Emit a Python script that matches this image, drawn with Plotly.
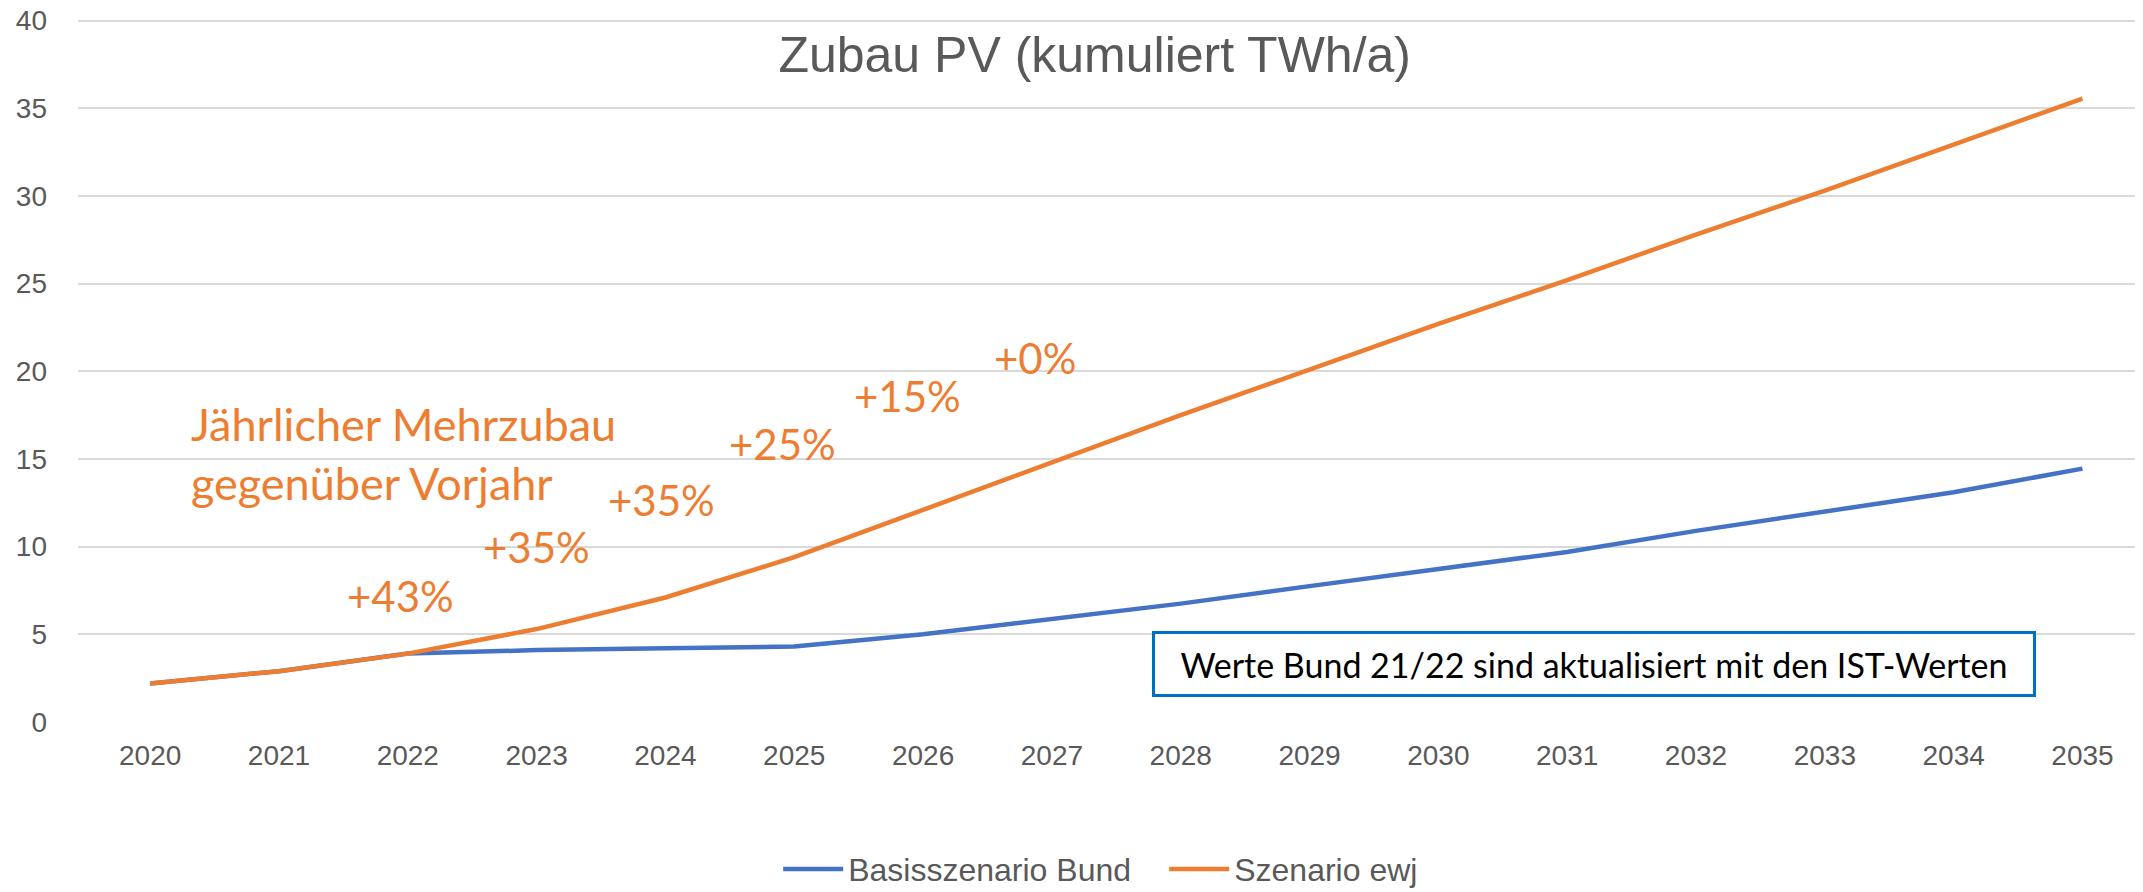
import plotly.graph_objects as go

years = list(range(2020, 2036))
basis_bund = [2.2, 2.9, 3.9, 4.1, 4.2, 4.3, 5.0, 5.85, 6.75, 7.75, 8.7, 9.7, 10.9, 12.0, 13.1, 14.45]
szenario_ewj = [2.2, 2.9, 3.9, 5.3, 7.1, 9.4, 12.1, 14.8, 17.5, 20.1, 22.7, 25.2, 27.8, 30.3, 32.9, 35.55]

pct_labels = ["+43%", "+35%", "+35%", "+25%", "+15%", "+0%"]
pct_x = [2021.94, 2023.0, 2023.97, 2024.91, 2025.88, 2026.87]
pct_y = [7.2, 10.0, 12.65, 15.85, 18.6, 20.75]

y_ticks = [0, 5, 10, 15, 20, 25, 30, 35, 40]

BLUE = "#4472C4"
ORANGE = "#ED7D31"
GREY = "#595959"

# page body has an 8px margin, so the figure is sized/offset to fill the 2143x892 window
W, H = 2135, 884

fig = go.Figure()
fig.add_trace(go.Scatter(x=years, y=basis_bund, mode="lines", name="Basisszenario Bund",
                         line=dict(color=BLUE, width=4.5)))
fig.add_trace(go.Scatter(x=years, y=szenario_ewj, mode="lines", name="Szenario ewj",
                         line=dict(color=ORANGE, width=4.5)))

for t, x, y in zip(pct_labels, pct_x, pct_y):
    fig.add_annotation(x=x, y=y, text=t, showarrow=False,
                       font=dict(family="Lato", size=42, color=ORANGE))

fig.add_annotation(x=2020.3, y=15.3, text="Jährlicher Mehrzubau<br>gegenüber Vorjahr",
                   showarrow=False, align="left", xanchor="left", yanchor="middle",
                   font=dict(family="Lato", size=45, color=ORANGE))

fig.add_annotation(x=2031.21, y=3.3, text="Werte Bund 21/22 sind aktualisiert mit den IST-Werten",
                   showarrow=False, bordercolor="#0070C0", borderwidth=3, borderpad=8,
                   width=862, height=44, bgcolor="white",
                   font=dict(family="Lato", size=34, color="black"))

fig.update_layout(
    width=W, height=H,
    margin=dict(l=70, r=0, t=10, b=170, autoexpand=False),
    paper_bgcolor="white", plot_bgcolor="white",
    title=dict(text="Zubau PV (kumuliert TWh/a)", x=0.509, xanchor="center",
               y=1 - 46 / H, yanchor="middle",
               font=dict(family="Liberation Sans", size=50, color=GREY)),
    legend=dict(orientation="h", x=0.526, xanchor="center", y=-0.17, yanchor="top",
                font=dict(family="Liberation Sans", size=32, color=GREY),
                itemwidth=60, tracegroupgap=0, entrywidth=311),
    showlegend=True,
)
fig.update_xaxes(range=[2019.44, 2035.47], tickmode="array", tickvals=years,
                 ticktext=[str(y) for y in years], showgrid=False, zeroline=False,
                 showline=False, automargin=False,
                 tickfont=dict(family="Liberation Sans", size=28, color=GREY),
                 ticklabelstandoff=14)
fig.update_yaxes(range=[0, 40.15], tickmode="array", tickvals=y_ticks,
                 showgrid=True, gridcolor="#D9D9D9", gridwidth=2,
                 zeroline=False, showline=False, automargin=False,
                 ticklabeloverflow="allow",
                 tickfont=dict(family="Liberation Sans", size=28, color=GREY),
                 ticklabelstandoff=30)

fig.write_html("out.html")
